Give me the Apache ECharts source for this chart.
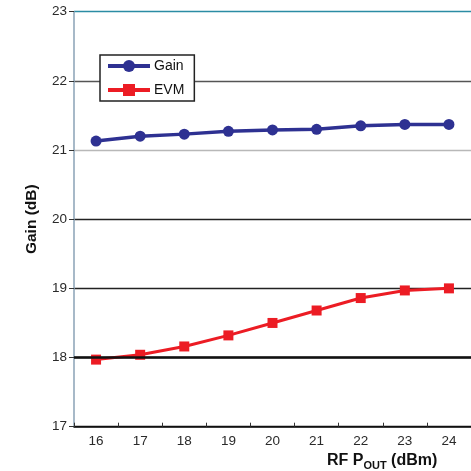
<!DOCTYPE html>
<html>
<head>
<meta charset="utf-8">
<script src="https://cdn.jsdelivr.net/npm/echarts@6/dist/echarts.min.js"></script>
<style>
  html, body { margin: 0; padding: 0; background: #fff; }
  #chart { width: 471px; height: 471px; }
</style>
</head>
<body>
<div id="chart"></div>
<script>
// RF output power (dBm)
var pout = ['16', '17', '18', '19', '20', '21', '22', '23', '24'];
// gain (dB)
var gain = [21.13, 21.20, 21.23, 21.27, 21.29, 21.30, 21.35, 21.37, 21.37];
// EVM, drawn on the same left scale as in the picture
var evm = [17.97, 18.04, 18.16, 18.32, 18.50, 18.68, 18.86, 18.97, 19.00];

var font = 'Liberation Sans, Arial, sans-serif';
var mychart = echarts.init(document.getElementById('chart'));

var option = {
    backgroundColor: '#fff',
    animation: false,
    grid: { left: 74, top: 11.7, width: 404, bottom: 44.3 },
    title: {
        left: 322,
        top: 446,
        text: '{a|RF P}{b|OUT}{a| (dBm)}',
        textStyle: {
            rich: {
                a: { fontFamily: font, fontSize: 16, fontWeight: 'bold', color: '#111' },
                b: { fontFamily: font, fontSize: 11, fontWeight: 'bold', color: '#111', verticalAlign: 'bottom', padding: [9, 0, 0, 0] }
            }
        }
    },
    legend: {
        orient: 'vertical',
        left: 100,
        top: 55,
        padding: [3, 10, 3, 6],
        itemGap: 8,
        itemWidth: 42,
        itemHeight: 15,
        backgroundColor: '#fff',
        borderColor: '#222',
        borderWidth: 1.5,
        borderRadius: 0,
        lineStyle: { width: 4 },
        textStyle: { fontFamily: font, fontSize: 14, color: '#111', lineHeight: 16, padding: [0, 0, 0, -1] },
        data: ['Gain', 'EVM']
    },
    xAxis: {
        type: 'category',
        data: pout,
        boundaryGap: true,
        axisLine: { lineStyle: { color: '#111', width: 1.5 } },
        axisTick: { show: true, length: 4, inside: true, lineStyle: { color: '#333' } },
        axisLabel: { fontFamily: font, fontSize: 13.5, color: '#2a2a2a', margin: 8 },
        splitLine: { show: false }
    },
    yAxis: {
        type: 'value',
        min: 17,
        max: 23,
        interval: 1,
        name: 'Gain (dB)',
        nameLocation: 'middle',
        nameRotate: 90,
        nameGap: 34,
        nameTextStyle: { fontFamily: font, fontSize: 15.5, fontWeight: 'bold', color: '#111' },
        axisLine: { show: true, lineStyle: { color: '#8aa2b6', width: 1.5 } },
        axisTick: { show: true, length: 5, lineStyle: { color: '#333' } },
        axisLabel: { fontFamily: font, fontSize: 13.5, color: '#2a2a2a', margin: 7 },
        splitLine: {
            show: true,
            lineStyle: {
                width: 1.3,
                color: ['#111', '#111', '#222', '#222', '#b8b8b8', '#555', '#2b8ca4']
            }
        }
    },
    series: [
        {
            name: 'Gain',
            type: 'line',
            data: gain,
            symbol: 'circle',
            symbolSize: 11,
            itemStyle: { color: '#2e3192' },
            lineStyle: { color: '#2e3192', width: 3.5 },
            z: 3
        },
        {
            name: 'EVM',
            type: 'line',
            data: evm,
            symbol: 'rect',
            symbolSize: 10,
            itemStyle: { color: '#ec1c24' },
            lineStyle: { color: '#ec1c24', width: 3 },
            markLine: {
                silent: true,
                symbol: 'none',
                label: { show: false },
                lineStyle: { color: '#111', width: 2.5, type: 'solid' },
                data: [{ yAxis: 18 }]
            },
            z: 3
        }
    ]
};

mychart.setOption(option);
</script>
</body>
</html>
